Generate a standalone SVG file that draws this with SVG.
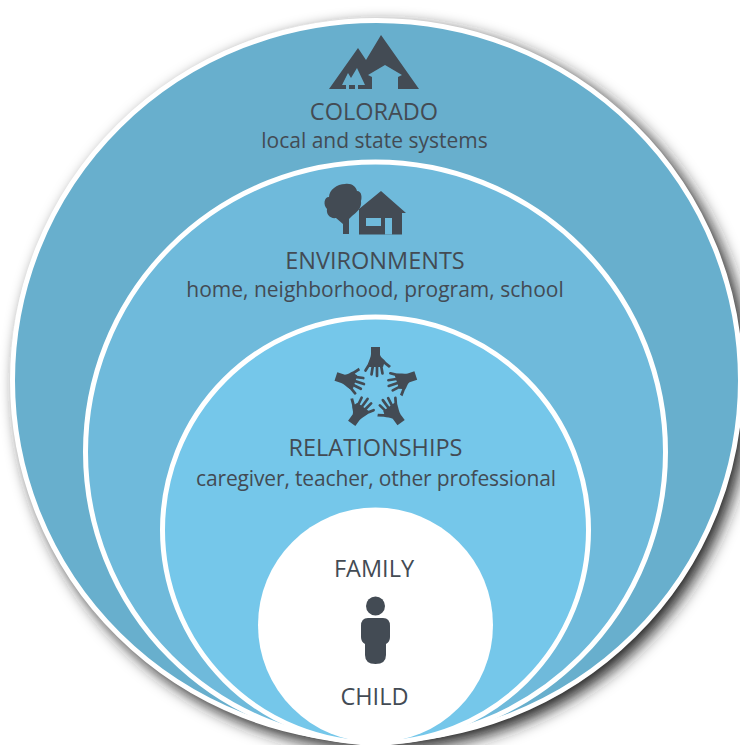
<svg xmlns="http://www.w3.org/2000/svg" width="740" height="745" viewBox="0 0 740 745">
<style>
.ring{stroke:#fff;stroke-width:5}
.ic{fill:#434b54}
.fg{stroke:#434b54;stroke-width:2.7;stroke-linecap:round;fill:none}
text{font-family:"Open Sans","Noto Sans","Liberation Sans",sans-serif;fill:#434b54;text-anchor:middle}
.h{font-size:23.5px}
.s{font-size:21px}
</style>
<defs>
<filter id="sh" x="-10%" y="-10%" width="120%" height="120%"><feGaussianBlur stdDeviation="8"/></filter>
<g id="hand">
<path class="ic" d="M-5,-18 H4 V-10 C5,-7 8,-6 10,-3 L15,1 L13,3 L8,-1 L7,2 H-7 L-8,-1 C-7,-5 -5,-8 -5,-11 Z"/>
<path class="fg" d="M-6.500,-1 L-10.500,5.500 M-3,0 L-4.500,9.500 M1,0 L1,11 M5,0 L6.500,8.500"/>
</g>
</defs>
<rect width="740" height="745" fill="#fff"/>
<g id="shadow"><ellipse cx="383" cy="387" rx="366" ry="362.5" fill="#222" filter="url(#sh)"/></g>
<g id="colorado">
<ellipse class="ring" cx="376.5" cy="380.5" rx="364" ry="360" fill="#68afcd"/>
<path class="ic" d="M329,89 L358,48 L366,60 L381,35 L419,89 Z"/>
<path fill="#68afcd" d="M368,75 L385,65 L402,75 L398,77 V89 H372 V77 Z"/>
<path fill="#68afcd" d="M342,85 L348,73 L351,78 L357,68 L365,85 H358 V89 H355 V85 H349 V89 H346 V85 Z"/>
<text class="h" x="374" y="120">COLORADO</text>
<text class="s" x="374.5" y="148">local and state systems</text>
</g>
<g id="environments">
<circle class="ring" cx="375.5" cy="452" r="290" fill="#6fbadb"/>
<path class="ic" d="M345,184 C352,183 356,187 357,191 C362,191 362,198 361,201 C362,208 357,212 352,216 C349,219 349,219 349,219 V234 H343 V224 L336,218 C330,219 326,214 327,209 C323,205 324,197 329,197 C329,190 337,184 345,184Z"/>
<path class="ic" d="M381,191 L406,213 L402,213 V234.500 H359 V209 Z"/>
<path fill="#6fbadb" d="M366,218 h15 v8 h-15z M385,218 h7 v16.500 h-7z"/>
<text class="h" x="375" y="269">ENVIRONMENTS</text>
<text class="s" x="375" y="297">home, neighborhood, program, school</text>
</g>
<g id="relationships">
<circle class="ring" cx="375.5" cy="530" r="213" fill="#75c7ea"/>
<use href="#hand" transform="rotate(0 376 389) translate(376,365)"/>
<use href="#hand" transform="rotate(72 376 389) translate(376,365)"/>
<use href="#hand" transform="rotate(144 376 389) translate(376,365)"/>
<use href="#hand" transform="rotate(216 376 389) translate(376,365)"/>
<use href="#hand" transform="rotate(288 376 389) translate(376,365)"/>
<text class="h" x="375.5" y="456">RELATIONSHIPS</text>
<text class="s" x="376" y="486" textLength="360">caregiver, teacher, other professional</text>
</g>
<g id="family">
<circle cx="375.5" cy="625" r="117.5" fill="#fff"/>
<circle class="ic" cx="375.5" cy="606" r="9.5"/>
<path class="ic" d="M368,618 H383 Q390,618 390,626 V637 Q390,642 386,644 V655 Q386,664 375.5,664 Q365,664 365,655 V644 Q361,642 361,637 V626 Q361,618 368,618Z"/>
<text class="h" x="374" y="577">FAMILY</text>
<text class="h" x="374.5" y="705">CHILD</text>
</g>
</svg>
